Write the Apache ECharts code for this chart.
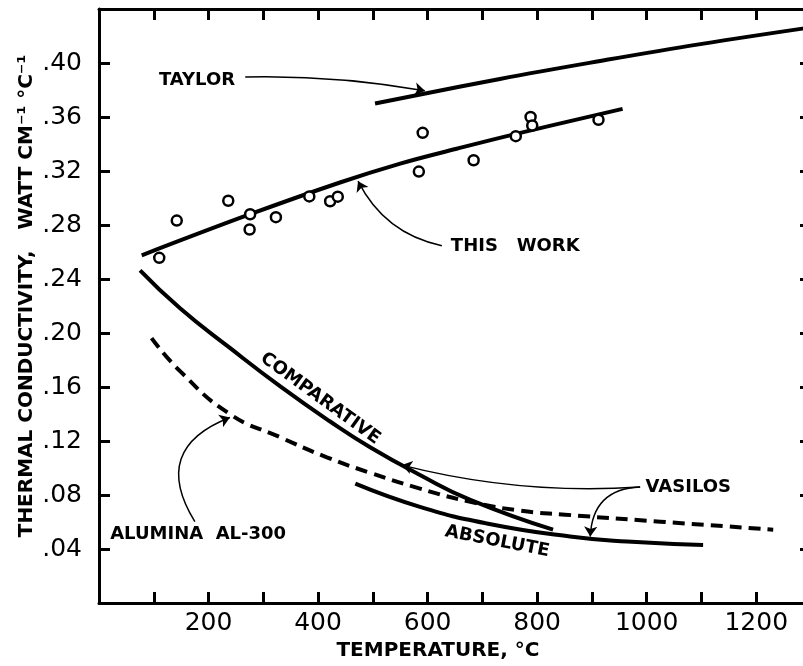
<!DOCTYPE html>
<html>
<head>
<meta charset="utf-8">
<script src="https://cdn.jsdelivr.net/npm/echarts@6/dist/echarts.min.js"></script>
<style>
html,body{margin:0;padding:0;background:#fff;overflow:hidden;}
#chart{width:830px;height:666px;}
</style>
</head>
<body>
<div id="chart"></div>
<script>
// ---- data (temperature °C, conductivity W cm^-1 °C^-1) ----
const thisWorkT = [78, 276, 440, 550, 653, 756, 956];
const thisWorkK = [0.2576, 0.2880, 0.3115, 0.3255, 0.3365, 0.3470, 0.3660];

const pointsT = [110, 142, 236, 276, 275, 323, 384, 422, 436, 584, 591, 684, 761, 788, 791, 912];
const pointsK = [0.2557, 0.2833, 0.2980, 0.2880, 0.2767, 0.2858, 0.3012, 0.2976, 0.3010, 0.3196, 0.3483, 0.3280, 0.3458, 0.3600, 0.3537, 0.3580];

const taylorT = [504, 732, 915, 1098, 1300];
const taylorK = [0.3700, 0.3882, 0.4015, 0.4140, 0.4264];

const comparativeT = [75, 148, 239, 331, 422, 495, 586, 678, 829];
const comparativeK = [0.2465, 0.2184, 0.1890, 0.1605, 0.1345, 0.1154, 0.0949, 0.0765, 0.0544];

const absoluteT = [468, 586, 708, 860, 964, 1103];
const absoluteK = [0.0885, 0.0713, 0.0590, 0.0493, 0.0456, 0.0431];

const aluminaT = [96, 148, 239, 331, 416, 495, 586, 678, 769, 851, 1025, 1231];
const aluminaK = [0.1963, 0.1718, 0.1400, 0.1228, 0.1080, 0.0965, 0.0848, 0.0750, 0.0685, 0.0655, 0.0603, 0.0544];

// annotation texts and anchor points (data coords)
const noteText = ['TAYLOR', 'THIS   WORK', 'COMPARATIVE', 'ABSOLUTE', 'VASILOS', 'ALUMINA  AL-300'];
const noteT = [179, 760, 404, 727, 1076, 181];
const noteK = [0.3875, 0.2640, 0.1515, 0.0456, 0.0860, 0.0507];
const noteRotate = [0, 0, -36, -11, 0, 0];

// annotation arrows: [fromT, fromK] -> [toT, toK]
const arrowFrom = [[267, 0.3897], [626, 0.2647], [988, 0.0860], [988, 0.0860], [175, 0.0603]];
const arrowTo   = [[595, 0.3794], [473, 0.3125], [553, 0.1022], [897, 0.0493], [239, 0.1375]];
const arrowBend = [0.05, 0.24, 0.08, -0.46, 0.6];

// axis ticks
const xMin = 0, xMax = 1300, xStep = 100, xLabelStep = 200;
const yMin = 0, yMax = 0.44, yStep = 0.04;

const zip = (a, b) => a.map((v, i) => [v, b[i]]);
const FONT = 'DejaVu Sans';

const chart = echarts.init(document.getElementById('chart'));

const axisCommon = {
  axisLine: { show: true, onZero: false, lineStyle: { color: '#000', width: 3 } },
  axisTick: { show: true, inside: true, length: 11, lineStyle: { color: '#000', width: 3 } },
  splitLine: { show: false }
};

const yFmt = v => (v <= 0 || v > 0.42) ? '' : v.toFixed(2).replace(/^0/, '');
const xFmt = v => (v === 0 || Math.round(v) % xLabelStep !== 0) ? '' : String(v);

const option = {
  backgroundColor: '#fff',
  animation: false,
  grid: { left: 99, top: 9, bottom: 59, width: 712 },
  xAxis: [
    Object.assign({}, axisCommon, {
      type: 'value', position: 'bottom', min: xMin, max: xMax, interval: xStep,
      axisLabel: { margin: 8, color: '#000', fontFamily: FONT, fontSize: 25, formatter: xFmt },
      name: 'TEMPERATURE, °C', nameLocation: 'middle', nameGap: 35,
      nameTextStyle: { color: '#000', fontFamily: FONT, fontWeight: 'bold', fontSize: 20, padding: [0, 34, 0, 0] }
    }),
    Object.assign({}, axisCommon, {
      type: 'value', position: 'top', min: xMin, max: xMax, interval: xStep,
      axisLabel: { show: false }
    })
  ],
  yAxis: [
    Object.assign({}, axisCommon, {
      type: 'value', position: 'left', min: yMin, max: yMax, interval: yStep,
      axisLabel: { margin: 17, color: '#000', fontFamily: FONT, fontSize: 25, formatter: yFmt },
      name: 'THERMAL CONDUCTIVITY,   WATT CM⁻¹ °C⁻¹', nameLocation: 'middle', nameRotate: 90, nameGap: 62,
      nameMoveOverlap: false,
      nameTextStyle: { color: '#000', fontFamily: FONT, fontWeight: 'bold', fontSize: 20, padding: [0, 0, 0, 20] }
    }),
    Object.assign({}, axisCommon, {
      type: 'value', position: 'right', min: yMin, max: yMax, interval: yStep,
      axisLabel: { show: false }
    })
  ],
  series: [
    {
      type: 'line', name: 'This work', data: zip(thisWorkT, thisWorkK), smooth: 0.4,
      showSymbol: false, lineStyle: { color: '#000', width: 4 }
    },
    {
      type: 'scatter', name: 'Measured', data: zip(pointsT, pointsK), symbol: 'circle', symbolSize: 10,
      itemStyle: { color: '#fff', borderColor: '#000', borderWidth: 2.5, opacity: 1 }, z: 5
    },
    {
      type: 'line', name: 'Taylor', data: zip(taylorT, taylorK), smooth: 0.4,
      showSymbol: false, lineStyle: { color: '#000', width: 4 }
    },
    {
      type: 'line', name: 'Comparative', data: zip(comparativeT, comparativeK), smooth: 0.5,
      showSymbol: false, lineStyle: { color: '#000', width: 4 }
    },
    {
      type: 'line', name: 'Absolute', data: zip(absoluteT, absoluteK), smooth: 0.5,
      showSymbol: false, lineStyle: { color: '#000', width: 4 }
    },
    {
      type: 'line', name: 'Alumina AL-300', data: zip(aluminaT, aluminaK), smooth: 0.5,
      showSymbol: false, lineStyle: { color: '#000', width: 4, type: [12, 7] }
    },
    {
      type: 'lines', coordinateSystem: 'cartesian2d', polyline: false,
      symbol: ['none', 'arrow'], symbolSize: [4, 10],
      lineStyle: { color: '#000', width: 1.5, opacity: 1 },
      data: arrowFrom.map((f, i) => ({ coords: [f, arrowTo[i]], lineStyle: { curveness: arrowBend[i] } })),
      z: 6
    },
    {
      type: 'scatter', name: 'notes', symbolSize: 0, itemStyle: { color: '#000', opacity: 1 }, silent: true,
      data: noteText.map((t, i) => ({
        value: [noteT[i], noteK[i]],
        label: { rotate: noteRotate[i] }
      })),
      label: {
        show: true, position: 'inside', align: 'center', verticalAlign: 'middle', opacity: 1,
        color: '#000', textBorderWidth: 0, textBorderColor: 'transparent',
        fontFamily: FONT, fontWeight: 'bold', fontSize: 18,
        formatter: p => noteText[p.dataIndex]
      },
      emphasis: { disabled: true },
      z: 7
    }
  ]
};
chart.setOption(option);
</script>
</body>
</html>
